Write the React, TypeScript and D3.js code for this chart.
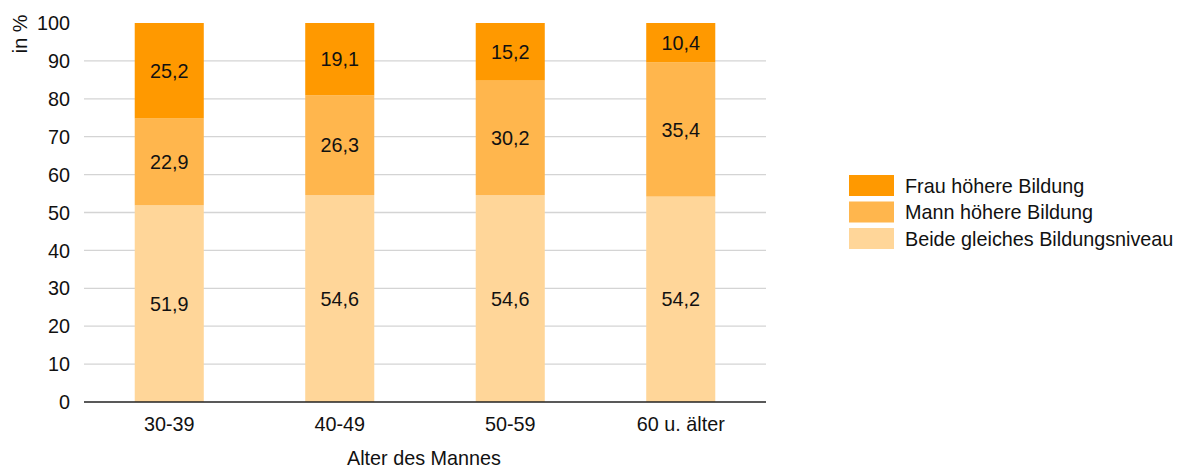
import React from "react";
import * as d3 from "d3";

// Age groups of the man and the share of each education constellation (in %)
const categories = ["30-39", "40-49", "50-59", "60 u. älter"];
const beideGleich = [51.9, 54.6, 54.6, 54.2];
const mannHoeher = [22.9, 26.3, 30.2, 35.4];
const frauHoeher = [25.2, 19.1, 15.2, 10.4];
const yTicks = [0, 10, 20, 30, 40, 50, 60, 70, 80, 90, 100];

const seriesNames = ["Beide gleiches Bildungsniveau", "Mann höhere Bildung", "Frau höhere Bildung"];
const seriesColors = ["#FFD699", "#FFB64D", "#FF9900"];

const W = 1185;
const H = 469;
const plot = { left: 84, right: 766, top: 23, bottom: 402 };
const font = "'Liberation Sans', Arial, sans-serif";
const fs = 19.8;

export default function App() {
  const rows = categories.map((c, i) => ({
    cat: c,
    s0: beideGleich[i],
    s1: mannHoeher[i],
    s2: frauHoeher[i],
  }));
  const stack = d3.stack<any>().keys(["s0", "s1", "s2"]);
  const stacked = stack(rows);

  const x = d3
    .scaleBand<string>()
    .domain(categories)
    .range([plot.left, plot.right])
    .paddingInner(0.595)
    .paddingOuter(0.2975);
  const y = d3.scaleLinear().domain([0, 100]).range([plot.bottom, plot.top]);

  const fmt = (v: number) => v.toFixed(1).replace(".", ",");

  const legendOrder = [2, 1, 0];

  return (
    <svg
      width={W}
      height={H}
      style={{ position: "absolute", left: 0, top: 0, background: "#fff" }}
      fontFamily={font}
    >
      {/* gridlines */}
      {yTicks
        .filter((t) => t > 0 && t < 100)
        .map((t) => (
          <line
            key={"g" + t}
            x1={plot.left}
            x2={plot.right}
            y1={y(t)}
            y2={y(t)}
            stroke="#d4d4d4"
            strokeWidth={1.3}
          />
        ))}
      {/* y tick labels */}
      {yTicks.map((t) => (
        <text
          key={"yt" + t}
          x={70}
          y={y(t)}
          dy="0.36em"
          textAnchor="end"
          fontSize={fs}
          fill="#111"
        >
          {t}
        </text>
      ))}
      {/* bars */}
      {stacked.map((layer, li) =>
        layer.map((d, i) => (
          <rect
            key={`b${li}-${i}`}
            x={x(categories[i])!}
            y={y(d[1])}
            width={x.bandwidth()}
            height={y(d[0]) - y(d[1])}
            fill={seriesColors[li]}
          />
        ))
      )}
      {/* value labels */}
      {stacked.map((layer, li) =>
        layer.map((d, i) => (
          <text
            key={`v${li}-${i}`}
            x={x(categories[i])! + x.bandwidth() / 2}
            y={y((d[0] + d[1]) / 2)}
            dy="0.36em"
            textAnchor="middle"
            fontSize={fs}
            fill="#111"
          >
            {fmt(d[1] - d[0])}
          </text>
        ))
      )}
      {/* x axis line */}
      <line x1={plot.left} x2={plot.right} y1={plot.bottom} y2={plot.bottom} stroke="#222" strokeWidth={1.3} />
      {/* x tick labels */}
      {categories.map((c) => (
        <text
          key={"xt" + c}
          x={x(c)! + x.bandwidth() / 2}
          y={431}
          textAnchor="middle"
          fontSize={fs}
          fill="#111"
        >
          {c}
        </text>
      ))}
      {/* axis titles */}
      <text x={424} y={464.5} textAnchor="middle" fontSize={fs} fill="#111">
        Alter des Mannes
      </text>
      <text
        transform={`translate(27,34) rotate(-90)`}
        textAnchor="middle"
        fontSize={fs}
        fill="#111"
      >
        in %
      </text>
      {/* legend */}
      {legendOrder.map((si, k) => (
        <g key={"lg" + si} transform={`translate(849,${175 + k * 26.5})`}>
          <rect width={45} height={21} fill={seriesColors[si]} />
          <text x={56} y={10.5} dy="0.36em" fontSize={fs} fill="#111">
            {seriesNames[si]}
          </text>
        </g>
      ))}
    </svg>
  );
}
